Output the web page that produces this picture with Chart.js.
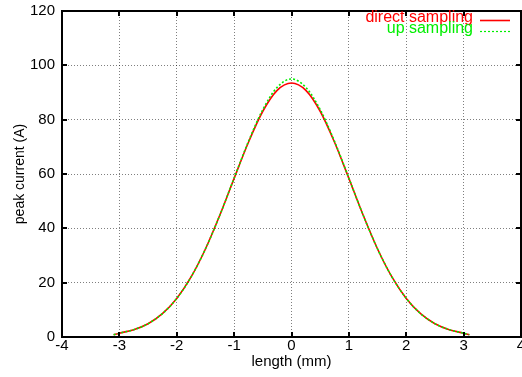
<!DOCTYPE html>
<html lang="en">
<head>
    <meta charset="UTF-8">
    <title>Peak current vs length</title>
    <script src="https://cdn.jsdelivr.net/npm/chart.js"></script>
    <style>
        body {
            margin: 0;
            padding: 0;
            background: #ffffff;
        }
        canvas {
            display: block;
        }
    </style>
</head>
<body>
    <canvas id="myChart" width="522" height="377"></canvas>
    <script>
        // length along the bunch (mm)
        const lengthMm = [-3.1, -3.0, -2.75, -2.5, -2.25, -2.0, -1.75, -1.5, -1.25, -1.0, -0.75, -0.5, -0.25,
            0, 0.25, 0.5, 0.75, 1.0, 1.25, 1.5, 1.75, 2.0, 2.25, 2.5, 2.75, 3.0, 3.1];
        // peak current (A)
        const directSampling = [0.8, 1.4, 2.7, 4.9, 8.6, 14.2, 22.1, 32.4, 44.8, 58.4, 71.7, 83.1, 90.8,
            93.5, 90.8, 83.1, 71.7, 58.4, 44.8, 32.4, 22.1, 14.2, 8.6, 4.9, 2.7, 1.4, 0.8];
        const upSampling = [0.8, 1.4, 2.7, 4.9, 8.6, 14.2, 22.1, 32.4, 44.8, 58.5, 72.0, 83.7, 91.9,
            95.0, 91.9, 83.7, 72.0, 58.5, 44.8, 32.4, 22.1, 14.2, 8.6, 4.9, 2.7, 1.4, 0.8];

        const xTicks = [-4, -3, -2, -1, 0, 1, 2, 3, 4];
        const yTicks = [0, 20, 40, 60, 80, 100, 120];

        const seriesNames = ['direct sampling', 'up sampling'];
        const seriesColors = ['#ff0000', '#00ee00'];

        const font = "'Liberation Sans', Arial, sans-serif";

        function toPoints(ys) {
            return lengthMm.map((x, i) => ({ x: x, y: ys[i] }));
        }

        // fixed axis boxes, no extra room for the end labels
        function fitX(s) {
            s.height = 40;
            s.paddingLeft = 0;
            s.paddingRight = 0;
        }
        function fitY(s) {
            s.width = 62;
            s.paddingTop = 0;
            s.paddingBottom = 0;
        }

        // border box, inward tick marks on all sides and the key in the top right
        const framePlugin = {
            id: 'frame',
            afterDraw(chart) {
                const ctx = chart.ctx;
                const a = chart.chartArea;
                const xs = chart.scales.x;
                const ys = chart.scales.y;
                ctx.save();
                ctx.strokeStyle = '#000';
                ctx.lineWidth = 2;
                ctx.beginPath();
                xTicks.forEach(v => {
                    const px = Math.round(xs.getPixelForValue(v));
                    ctx.moveTo(px, a.bottom); ctx.lineTo(px, a.bottom - 5);
                    ctx.moveTo(px, a.top); ctx.lineTo(px, a.top + 5);
                });
                yTicks.forEach(v => {
                    const py = Math.round(ys.getPixelForValue(v));
                    ctx.moveTo(a.left, py); ctx.lineTo(a.left + 5, py);
                    ctx.moveTo(a.right, py); ctx.lineTo(a.right - 5, py);
                });
                ctx.stroke();
                ctx.strokeRect(a.left, a.top, a.right - a.left, a.bottom - a.top);

                // key
                ctx.font = '16px ' + font;
                ctx.textAlign = 'right';
                ctx.textBaseline = 'alphabetic';
                seriesNames.forEach((name, i) => {
                    const ty = 22 + i * 11;
                    ctx.fillStyle = seriesColors[i];
                    ctx.fillText(name, 473, ty);
                    ctx.strokeStyle = seriesColors[i];
                    ctx.lineWidth = i === 0 ? 1.6 : 1.2;
                    ctx.setLineDash(i === 0 ? [] : [2, 2]);
                    ctx.beginPath();
                    ctx.moveTo(480, ty - 1.5);
                    ctx.lineTo(510, ty - 1.5);
                    ctx.stroke();
                });
                ctx.restore();
            }
        };

        const ctx = document.getElementById('myChart').getContext('2d');
        new Chart(ctx, {
            type: 'line',
            data: {
                datasets: [{
                    label: seriesNames[0],
                    data: toPoints(directSampling),
                    borderColor: seriesColors[0],
                    borderWidth: 1.6,
                    pointRadius: 0,
                    cubicInterpolationMode: 'monotone',
                    order: 1
                }, {
                    label: seriesNames[1],
                    data: toPoints(upSampling),
                    borderColor: seriesColors[1],
                    borderWidth: 1.6,
                    borderDash: [2, 2],
                    pointRadius: 0,
                    cubicInterpolationMode: 'monotone',
                    order: 0
                }]
            },
            options: {
                responsive: false,
                animation: false,
                layout: {
                    autoPadding: false,
                    padding: { top: 11, right: 1, left: 0, bottom: 0 }
                },
                plugins: {
                    legend: { display: false },
                    tooltip: { enabled: false }
                },
                scales: {
                    x: {
                        type: 'linear',
                        min: -4,
                        max: 4,
                        afterFit: fitX,
                        afterBuildTicks: s => { s.ticks = xTicks.map(v => ({ value: v })); },
                        ticks: {
                            color: '#000',
                            font: { family: font, size: 15 },
                            padding: 0,
                            maxRotation: 0
                        },
                        grid: { color: 'rgba(0,0,0,0.5)', drawTicks: false },
                        border: { display: false, dash: [1, 2] },
                        title: {
                            display: true,
                            text: 'length (mm)',
                            color: '#000',
                            font: { family: font, size: 15 },
                            padding: { top: 0, bottom: 6 }
                        }
                    },
                    y: {
                        min: 0,
                        max: 120,
                        afterFit: fitY,
                        afterBuildTicks: s => { s.ticks = yTicks.map(v => ({ value: v })); },
                        ticks: {
                            color: '#000',
                            font: { family: font, size: 15 },
                            padding: 7
                        },
                        grid: { color: 'rgba(0,0,0,0.5)', drawTicks: false },
                        border: { display: false, dash: [1, 2] },
                        title: {
                            display: true,
                            text: 'peak current (A)',
                            color: '#000',
                            font: { family: font, size: 14 },
                            padding: { top: 12, bottom: 0 }
                        }
                    }
                }
            },
            plugins: [framePlugin]
        });
    </script>
</body>
</html>
